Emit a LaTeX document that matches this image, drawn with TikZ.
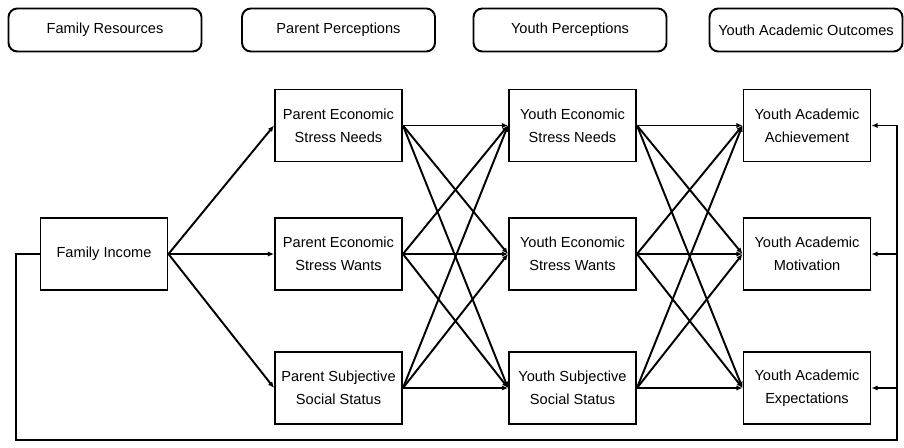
\documentclass[tikz,border=0pt]{standalone}
\usepackage{fontspec}
\setmainfont{Liberation Sans}
\usetikzlibrary{positioning,arrows.meta}

\tikzset{
  varbox/.style={draw, line width=1.1pt, minimum width=2.54cm, minimum height=1.44cm, align=center, inner sep=2pt},
  headbox/.style={draw, line width=1.1pt, rounded corners=5pt, minimum width=3.86cm, minimum height=0.86cm},
  path/.style={-{Latex[length=3.5pt,width=3pt]}, line width=1.1pt}
}

\begin{document}
\begin{tikzpicture}[font=\fontsize{8.3}{13.2}\selectfont]
      \useasboundingbox (0,0) rectangle (18.08,8.96);
      \node[headbox] (hRes) at (2.1,8.36) {Family Resources};
      \node[headbox] (hPar) at (6.77,8.36) {Parent Perceptions};
      \node[headbox] (hYou) at (11.4,8.36) {Youth Perceptions};
      \node[headbox] (hOut) at (16.12,8.36) {Youth Academic Outcomes};

      \node[varbox] (FI) at (2.08,3.88) {Family Income};
      \node[varbox] (PN) at (6.77,6.45) {Parent Economic\\Stress Needs};
      \node[varbox] (PW) at (6.77,3.88) {Parent Economic\\Stress Wants};
      \node[varbox] (PS) at (6.77,1.2) {Parent Subjective\\Social Status};
      \node[varbox] (YN) at (11.45,6.45) {Youth Economic\\Stress Needs};
      \node[varbox] (YW) at (11.45,3.88) {Youth Economic\\Stress Wants};
      \node[varbox] (YS) at (11.45,1.2) {Youth Subjective\\Social Status};
      \node[varbox] (AA) at (16.14,6.45) {Youth Academic\\Achievement};
      \node[varbox] (AM) at (16.14,3.88) {Youth Academic\\Motivation};
      \node[varbox] (AE) at (16.14,1.2) {Youth Academic\\Expectations};

      \draw[path] (FI.east) -- (PN.west);
      \draw[path] (FI.east) -- (PW.west);
      \draw[path] (FI.east) -- (PS.west);

      \draw[path] (PN.east) -- (YN.west);
      \draw[path] (PN.east) -- (YW.west);
      \draw[path] (PN.east) -- (YS.west);
      \draw[path] (PW.east) -- (YN.west);
      \draw[path] (PW.east) -- (YW.west);
      \draw[path] (PW.east) -- (YS.west);
      \draw[path] (PS.east) -- (YN.west);
      \draw[path] (PS.east) -- (YW.west);
      \draw[path] (PS.east) -- (YS.west);

      \draw[path] (YN.east) -- (AA.west);
      \draw[path] (YN.east) -- (AM.west);
      \draw[path] (YN.east) -- (AE.west);
      \draw[path] (YW.east) -- (AA.west);
      \draw[path] (YW.east) -- (AM.west);
      \draw[path] (YW.east) -- (AE.west);
      \draw[path] (YS.east) -- (AA.west);
      \draw[path] (YS.east) -- (AM.west);
      \draw[path] (YS.east) -- (AE.west);

      \coordinate (loopL) at (0.32,0.16);
      \coordinate (loopR) at (17.94,0.16);
      \draw[path] (FI.west) -| (loopL) -- (loopR) |- (AA.east);
      \draw[path] (loopR |- AM.east) -- (AM.east);
      \draw[path] (loopR |- AE.east) -- (AE.east);
    \end{tikzpicture}
\end{document}
